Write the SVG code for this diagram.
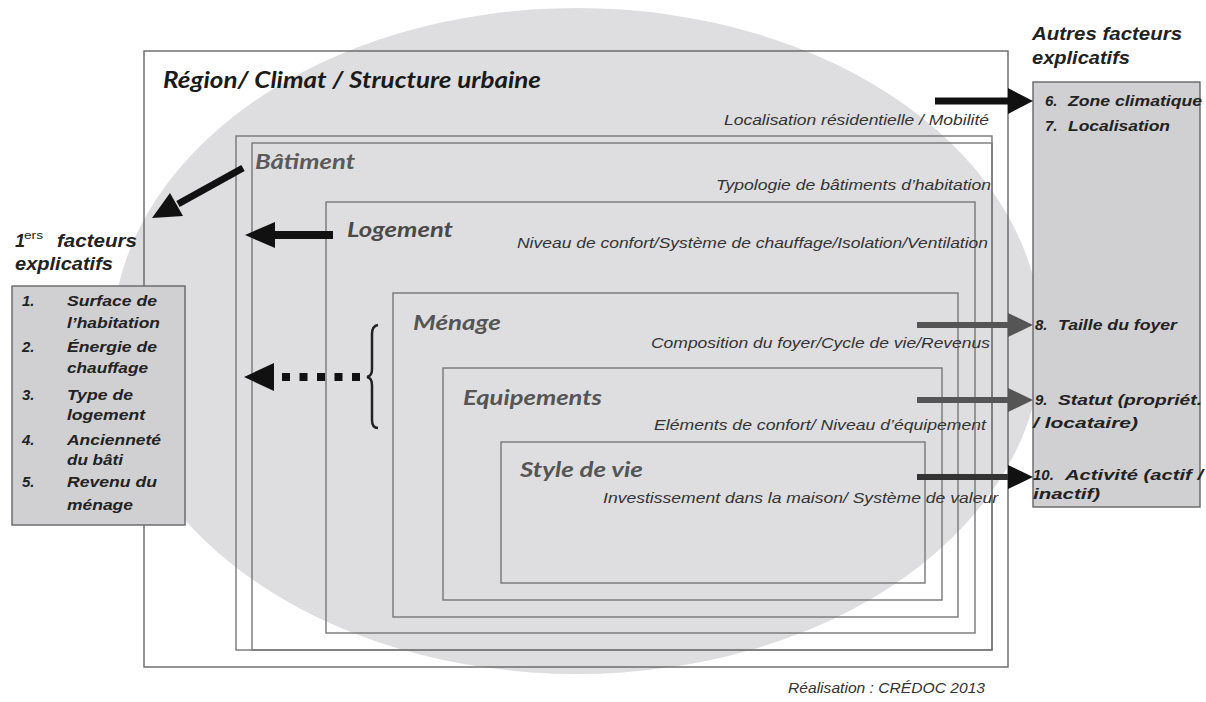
<svg xmlns="http://www.w3.org/2000/svg" width="1206" height="702" viewBox="0 0 1206 702">
<style>
.frame{fill:none;stroke:#777;stroke-width:1.4}
.lbl{font-family:Lato,"Open Sans","Liberation Sans",sans-serif;font-weight:bold;font-style:italic;font-size:21px;fill:#555}
.sub{font-family:"Liberation Sans",Arial,sans-serif;font-style:italic;font-size:15px;fill:#333}
.fac{font-family:"Liberation Sans",Arial,sans-serif;font-weight:bold;font-style:italic;font-size:15px;fill:#222}
.head{font-family:"Liberation Sans",Arial,sans-serif;font-weight:bold;font-style:italic;font-size:18px;fill:#222}
.gbox{fill:#d0d0d2;stroke:#666;stroke-width:1.4}
.shaftK{stroke:#111;fill:none}
.shaftG{stroke:#555;fill:none}
.hk{fill:#111}
.hg{fill:#555}
</style>
<rect width="1206" height="702" fill="#fff"/>
<ellipse id="halo" cx="577" cy="341" rx="465" ry="333" fill="#dedee0"/>

<g id="region">
<rect class="frame" x="144" y="51" width="864" height="616" style="stroke:#666"/>
<text class="lbl" x="163" y="88" style="font-size:22px;fill:#1a1a1a" textLength="378" lengthAdjust="spacingAndGlyphs">Région/ Climat / Structure urbaine</text>
<text class="sub" x="724" y="125" textLength="265" lengthAdjust="spacingAndGlyphs">Localisation résidentielle / Mobilité</text>
</g>
<g id="batiment">
<rect class="frame" x="236" y="136" width="756" height="514"/>
<rect class="frame" x="252" y="143" width="740" height="507"/>
<text class="lbl" x="255" y="169" style="font-size:20px;fill:#5a5a5a" textLength="100" lengthAdjust="spacingAndGlyphs">Bâtiment</text>
<text class="sub" x="716" y="190" textLength="275" lengthAdjust="spacingAndGlyphs">Typologie de bâtiments d’habitation</text>
</g>
<g id="logement">
<rect class="frame" x="326" y="202" width="649" height="431"/>
<text class="lbl" x="347" y="237" style="fill:#4a4a4a" textLength="106" lengthAdjust="spacingAndGlyphs">Logement</text>
<text class="sub" x="517" y="248" textLength="471" lengthAdjust="spacingAndGlyphs">Niveau de confort/Système de chauffage/Isolation/Ventilation</text>
</g>
<g id="menage">
<rect class="frame" x="393" y="293" width="565" height="324"/>
<text class="lbl" x="413" y="330" textLength="88" lengthAdjust="spacingAndGlyphs">Ménage</text>
<text class="sub" x="651" y="348" textLength="339" lengthAdjust="spacingAndGlyphs">Composition du foyer/Cycle de vie/Revenus</text>
</g>
<g id="equipements">
<rect class="frame" x="443" y="368" width="499" height="232"/>
<text class="lbl" x="463" y="405" textLength="139" lengthAdjust="spacingAndGlyphs">Equipements</text>
<text class="sub" x="654" y="430" textLength="332" lengthAdjust="spacingAndGlyphs">Eléments de confort/ Niveau d’équipement</text>
</g>
<g id="style-de-vie">
<rect class="frame" x="501" y="442" width="424" height="141"/>
<text class="lbl" x="520" y="477" textLength="123" lengthAdjust="spacingAndGlyphs">Style de vie</text>
<text class="sub" x="603" y="503" textLength="395" lengthAdjust="spacingAndGlyphs">Investissement dans la maison/ Système de valeur</text>
</g>

<g id="premiers-facteurs">
<text class="head" x="15" y="247">1</text>
<text class="head" x="24" y="239" style="font-size:11px;font-weight:normal;font-style:normal" textLength="19" lengthAdjust="spacingAndGlyphs">ers</text>
<text class="head" x="57" y="247" textLength="80" lengthAdjust="spacingAndGlyphs">facteurs</text>
<text class="head" x="15" y="270" textLength="98" lengthAdjust="spacingAndGlyphs">explicatifs</text>
<rect class="gbox" x="12" y="286" width="173" height="239"/>
<text class="fac" x="22" y="306">1.</text>
<text class="fac" x="67" y="306" textLength="90" lengthAdjust="spacingAndGlyphs">Surface de</text>
<text class="fac" x="67" y="328" textLength="93" lengthAdjust="spacingAndGlyphs">l’habitation</text>
<text class="fac" x="22" y="352">2.</text>
<text class="fac" x="67" y="352" textLength="90" lengthAdjust="spacingAndGlyphs">Énergie de</text>
<text class="fac" x="67" y="373" textLength="81" lengthAdjust="spacingAndGlyphs">chauffage</text>
<text class="fac" x="22" y="400">3.</text>
<text class="fac" x="67" y="400" textLength="66" lengthAdjust="spacingAndGlyphs">Type de</text>
<text class="fac" x="67" y="420" textLength="78" lengthAdjust="spacingAndGlyphs">logement</text>
<text class="fac" x="22" y="445">4.</text>
<text class="fac" x="67" y="445" textLength="94" lengthAdjust="spacingAndGlyphs">Ancienneté</text>
<text class="fac" x="67" y="465" textLength="56" lengthAdjust="spacingAndGlyphs">du bâti</text>
<text class="fac" x="22" y="487">5.</text>
<text class="fac" x="67" y="487" textLength="90" lengthAdjust="spacingAndGlyphs">Revenu du</text>
<text class="fac" x="67" y="510" textLength="66" lengthAdjust="spacingAndGlyphs">ménage</text>
</g>

<g id="autres-facteurs">
<text class="head" x="1032" y="40" textLength="150" lengthAdjust="spacingAndGlyphs">Autres facteurs</text>
<text class="head" x="1032" y="64" textLength="98" lengthAdjust="spacingAndGlyphs">explicatifs</text>
<rect class="gbox" x="1033" y="82" width="167" height="425"/>
<text class="fac" x="1045" y="106">6.</text>
<text class="fac" x="1068" y="106" textLength="134" lengthAdjust="spacingAndGlyphs">Zone climatique</text>
<text class="fac" x="1045" y="131">7.</text>
<text class="fac" x="1068" y="131" textLength="102" lengthAdjust="spacingAndGlyphs">Localisation</text>
<text class="fac" x="1035" y="330">8.</text>
<text class="fac" x="1058" y="330" textLength="119" lengthAdjust="spacingAndGlyphs">Taille du foyer</text>
<text class="fac" x="1035" y="405">9.</text>
<text class="fac" x="1058" y="405" textLength="144" lengthAdjust="spacingAndGlyphs">Statut (propriét.</text>
<text class="fac" x="1033" y="428" textLength="105" lengthAdjust="spacingAndGlyphs">/ locataire)</text>
<text class="fac" x="1033" y="480">10.</text>
<text class="fac" x="1065" y="480" textLength="138" lengthAdjust="spacingAndGlyphs">Activité (actif /</text>
<text class="fac" x="1033" y="499" textLength="67" lengthAdjust="spacingAndGlyphs">inactif)</text>
</g>

<g id="connectors">
<line class="shaftK" x1="935" y1="101" x2="1010" y2="101" stroke-width="7"/>
<polygon class="hk" points="1008,88 1033,101 1008,114"/>
<line class="shaftG" x1="917" y1="325" x2="1010" y2="325" stroke-width="6"/>
<polygon class="hg" points="1008,313 1033,325 1008,337"/>
<line class="shaftG" x1="917" y1="400" x2="1010" y2="400" stroke-width="6"/>
<polygon class="hg" points="1008,388 1033,400 1008,412"/>
<line class="shaftK" x1="917" y1="477" x2="1010" y2="477" style="stroke:#333" stroke-width="6"/>
<polygon class="hk" points="1008,465 1033,477 1008,489"/>
<line class="shaftK" x1="243" y1="168" x2="178" y2="204" stroke-width="7"/>
<polygon class="hk" points="152,218 183,216 170,193"/>
<line class="shaftK" x1="333" y1="235" x2="272" y2="235" stroke-width="8"/>
<polygon class="hk" points="245,235 275,222 275,248"/>
<line class="shaftK" x1="360" y1="377" x2="282" y2="377" stroke-width="8" stroke-dasharray="8 9.5"/>
<polygon class="hk" points="244,377 274,363 274,391"/>
<path class="shaftK" style="stroke:#222" stroke-width="2.5" d="M378,325 Q372,326 372,334 L372,369 Q372,376 367,377 Q372,378 372,385 L372,420 Q372,428 378,428"/>
</g>

<text id="credit" class="sub" x="788" y="693" style="font-size:14px" textLength="197" lengthAdjust="spacingAndGlyphs">Réalisation : CRÉDOC 2013</text>
</svg>
